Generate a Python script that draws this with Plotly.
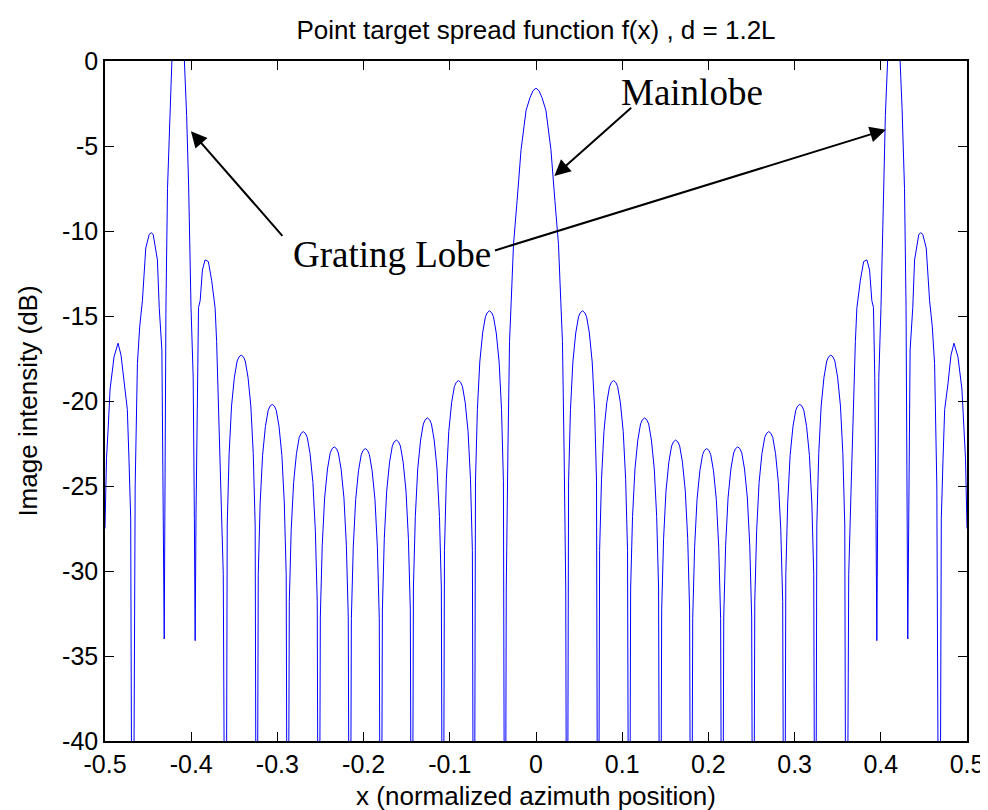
import plotly.graph_objects as go

# ---------------- data ----------------
# left half, from x = -0.5 to just before 0
x_left = [
    -0.5000, -0.4983, -0.4964, -0.4941, -0.4895, -0.4849, -0.4814, -0.4779, -0.4741, -0.4722, -0.4702, -0.4680,
    -0.4650, -0.4624, -0.4597, -0.4566, -0.4527, -0.4487, -0.4464, -0.4441, -0.4392, -0.4371, -0.4340, -0.4313,
    -0.4293, -0.4275, -0.4247, -0.4224, -0.4187, -0.4151, -0.4115, -0.4079, -0.4053, -0.4030, -0.4002, -0.3977, -0.3963, -0.3954,
    -0.3944, -0.3930, -0.3915, -0.3896, -0.3870, -0.3839, -0.3801, -0.3763, -0.3723, -0.3705, -0.3685, -0.3654, -0.3628, -0.3600,
    -0.3582, -0.3560, -0.3532, -0.3499, -0.3467, -0.3445, -0.3420, -0.3395, -0.3373, -0.3341, -0.3308, -0.3280, -0.3258, -0.3240,
    -0.3222, -0.3200, -0.3172, -0.3139, -0.3107, -0.3085, -0.3060, -0.3035, -0.3013, -0.2981, -0.2948, -0.2920, -0.2898, -0.2880,
    -0.2862, -0.2840, -0.2812, -0.2779, -0.2747, -0.2725, -0.2700, -0.2675, -0.2653, -0.2621, -0.2588, -0.2560, -0.2538, -0.2520,
    -0.2502, -0.2480, -0.2452, -0.2419, -0.2387, -0.2365, -0.2340, -0.2315, -0.2293, -0.2261, -0.2228, -0.2200, -0.2178, -0.2160,
    -0.2142, -0.2120, -0.2092, -0.2059, -0.2027, -0.2005, -0.1980, -0.1955, -0.1933, -0.1901, -0.1868, -0.1840, -0.1818, -0.1800,
    -0.1782, -0.1760, -0.1732, -0.1699, -0.1667, -0.1645, -0.1620, -0.1595, -0.1573, -0.1541, -0.1508, -0.1480, -0.1458, -0.1440,
    -0.1422, -0.1400, -0.1372, -0.1339, -0.1307, -0.1285, -0.1260, -0.1235, -0.1213, -0.1181, -0.1148, -0.1120, -0.1098, -0.1080,
    -0.1062, -0.1040, -0.1012, -0.0979, -0.0947, -0.0925, -0.0900, -0.0875, -0.0853, -0.0821, -0.0788, -0.0760, -0.0738, -0.0720,
    -0.0702, -0.0680, -0.0652, -0.0619, -0.0587, -0.0565, -0.0540, -0.0515, -0.0493, -0.0461, -0.0428, -0.0400, -0.0378, -0.0360,
    -0.0345, -0.0326, -0.0307, -0.0288, -0.0261, -0.0219, -0.0173, -0.0115, -0.0069, -0.0035,
]
y_left = [
    -27.5, -23.4, -21.7, -19.3, -17.4, -16.6, -17.3, -19.0, -20.5, -23.4, -26.9, -60.0,
    -25.0, -17.8, -15.6, -14.1, -11.0, -10.2, -10.1, -10.2, -11.7, -14.5, -17.0, -34.0,
    -14.5, -7.5, -2.8, 0.0, 1.0, 1.4, 1.0, 0.0, -3.2, -7.3, -14.5, -18.6, -26.9, -34.1,
    -26.6, -18.6, -14.5, -14.1, -12.3, -11.7, -11.8, -12.9, -14.5, -16.5, -19.7, -25.4, -30.2, -60.0,
    -27.3, -23.1, -20.3, -18.6, -17.65, -17.4, -17.3, -17.4, -17.65, -18.6, -20.3, -23.1, -27.3, -60.0,
    -30.2, -26.0, -23.2, -21.5, -20.55, -20.3, -20.2, -20.3, -20.55, -21.5, -23.2, -26.0, -30.2, -60.0,
    -31.8, -27.6, -24.8, -23.1, -22.15, -21.9, -21.8, -21.9, -22.15, -23.1, -24.8, -27.6, -31.8, -60.0,
    -32.7, -28.5, -25.7, -24.0, -23.05, -22.8, -22.7, -22.8, -23.05, -24.0, -25.7, -28.5, -32.7, -60.0,
    -32.8, -28.6, -25.8, -24.1, -23.15, -22.9, -22.8, -22.9, -23.15, -24.1, -25.8, -28.6, -32.8, -60.0,
    -32.3, -28.1, -25.3, -23.6, -22.65, -22.4, -22.3, -22.4, -22.65, -23.6, -25.3, -28.1, -32.3, -60.0,
    -31.0, -26.8, -24.0, -22.3, -21.35, -21.1, -21.0, -21.1, -21.35, -22.3, -24.0, -26.8, -31.0, -60.0,
    -28.8, -24.6, -21.8, -20.1, -19.15, -18.9, -18.8, -18.9, -19.15, -20.1, -21.8, -24.6, -28.8, -60.0,
    -24.7, -20.5, -17.7, -16.0, -15.05, -14.8, -14.7, -14.8, -15.05, -16.0, -17.7, -20.5, -24.7, -60.0,
    -31.0, -23.0, -16.5, -14.2, -10.8, -8.2, -5.2, -2.9, -2.15, -1.75,
]

# mainlobe peak
x_peak = [0.0]
y_peak = [-1.6]

# right half, from just after 0 to x = 0.5
x_right = [
    0.0035, 0.0069, 0.0115, 0.0173, 0.0219, 0.0261, 0.0288, 0.0307, 0.0326, 0.0345,
    0.0360, 0.0378, 0.0400, 0.0428, 0.0461, 0.0493, 0.0515, 0.0540, 0.0565, 0.0587, 0.0619, 0.0652, 0.0680, 0.0702,
    0.0720, 0.0738, 0.0760, 0.0788, 0.0821, 0.0853, 0.0875, 0.0900, 0.0925, 0.0947, 0.0979, 0.1012, 0.1040, 0.1062,
    0.1080, 0.1098, 0.1120, 0.1148, 0.1181, 0.1213, 0.1235, 0.1260, 0.1285, 0.1307, 0.1339, 0.1372, 0.1400, 0.1422,
    0.1440, 0.1458, 0.1480, 0.1508, 0.1541, 0.1573, 0.1595, 0.1620, 0.1645, 0.1667, 0.1699, 0.1732, 0.1760, 0.1782,
    0.1800, 0.1818, 0.1840, 0.1868, 0.1901, 0.1933, 0.1955, 0.1980, 0.2005, 0.2027, 0.2059, 0.2092, 0.2120, 0.2142,
    0.2160, 0.2178, 0.2200, 0.2228, 0.2261, 0.2293, 0.2315, 0.2340, 0.2365, 0.2387, 0.2419, 0.2452, 0.2480, 0.2502,
    0.2520, 0.2538, 0.2560, 0.2588, 0.2621, 0.2653, 0.2675, 0.2700, 0.2725, 0.2747, 0.2779, 0.2812, 0.2840, 0.2862,
    0.2880, 0.2898, 0.2920, 0.2948, 0.2981, 0.3013, 0.3035, 0.3060, 0.3085, 0.3107, 0.3139, 0.3172, 0.3200, 0.3222,
    0.3240, 0.3258, 0.3280, 0.3308, 0.3341, 0.3373, 0.3395, 0.3420, 0.3445, 0.3467, 0.3499, 0.3532, 0.3560, 0.3582,
    0.3600, 0.3628, 0.3654, 0.3685, 0.3705, 0.3723, 0.3763, 0.3801, 0.3839, 0.3870, 0.3896, 0.3915, 0.3930, 0.3944,
    0.3954, 0.3963, 0.3977, 0.4002, 0.4030, 0.4053, 0.4079, 0.4115, 0.4151, 0.4187, 0.4224, 0.4247, 0.4275, 0.4293,
    0.4313, 0.4340, 0.4371, 0.4392, 0.4441, 0.4464, 0.4487, 0.4527, 0.4566, 0.4597, 0.4624, 0.4650,
    0.4680, 0.4702, 0.4722, 0.4741, 0.4779, 0.4814, 0.4849, 0.4895, 0.4941, 0.4964, 0.4983, 0.5000,
]
y_right = [
    -1.75, -2.15, -2.9, -5.2, -8.2, -10.8, -14.2, -16.5, -23.0, -31.0,
    -60.0, -24.7, -20.5, -17.7, -16.0, -15.05, -14.8, -14.7, -14.8, -15.05, -16.0, -17.7, -20.5, -24.7,
    -60.0, -28.8, -24.6, -21.8, -20.1, -19.15, -18.9, -18.8, -18.9, -19.15, -20.1, -21.8, -24.6, -28.8,
    -60.0, -31.0, -26.8, -24.0, -22.3, -21.35, -21.1, -21.0, -21.1, -21.35, -22.3, -24.0, -26.8, -31.0,
    -60.0, -32.3, -28.1, -25.3, -23.6, -22.65, -22.4, -22.3, -22.4, -22.65, -23.6, -25.3, -28.1, -32.3,
    -60.0, -32.8, -28.6, -25.8, -24.1, -23.15, -22.9, -22.8, -22.9, -23.15, -24.1, -25.8, -28.6, -32.8,
    -60.0, -32.7, -28.5, -25.7, -24.0, -23.05, -22.8, -22.7, -22.8, -23.05, -24.0, -25.7, -28.5, -32.7,
    -60.0, -31.8, -27.6, -24.8, -23.1, -22.15, -21.9, -21.8, -21.9, -22.15, -23.1, -24.8, -27.6, -31.8,
    -60.0, -30.2, -26.0, -23.2, -21.5, -20.55, -20.3, -20.2, -20.3, -20.55, -21.5, -23.2, -26.0, -30.2,
    -60.0, -27.3, -23.1, -20.3, -18.6, -17.65, -17.4, -17.3, -17.4, -17.65, -18.6, -20.3, -23.1, -27.3,
    -60.0, -30.2, -25.4, -19.7, -16.5, -14.5, -12.9, -11.8, -11.7, -12.3, -14.1, -14.5, -18.6, -26.6,
    -34.1, -26.9, -18.6, -14.5, -7.3, -3.2, 0.0, 1.0, 1.4, 1.0, 0.0, -2.8, -7.5, -14.5,
    -34.0, -17.0, -14.5, -11.7, -10.2, -10.1, -10.2, -11.0, -14.1, -15.6, -17.8, -25.0,
    -60.0, -26.9, -23.4, -20.5, -19.0, -17.3, -16.6, -17.4, -19.3, -21.7, -23.4, -27.5,
]

x_tick_vals = [-0.5, -0.4, -0.3, -0.2, -0.1, 0.0, 0.1, 0.2, 0.3, 0.4, 0.5]
x_tick_text = ["-0.5", "-0.4", "-0.3", "-0.2", "-0.1", "0", "0.1", "0.2", "0.3", "0.4", "0.5"]
y_tick_vals = [0, -5, -10, -15, -20, -25, -30, -35, -40]
y_tick_text = ["0", "-5", "-10", "-15", "-20", "-25", "-30", "-35", "-40"]

title_text = "Point target spread function f(x) , d = 1.2L"
x_title = "x (normalized azimuth position)"
y_title = "Image intensity (dB)"

# ---------------- figure ----------------
x_all = x_left + x_peak + x_right
y_all = y_left + y_peak + y_right

SANS = "Liberation Sans, Arial, Helvetica, sans-serif"
SERIF = "Liberation Serif, Times New Roman, serif"

fig = go.Figure()
fig.add_trace(go.Scatter(
    x=x_all, y=y_all, mode="lines",
    line=dict(color="#0000ff", width=1),
    hoverinfo="skip", showlegend=False,
))

axis_common = dict(
    showline=True, linecolor="black", linewidth=1.5, mirror="allticks",
    ticks="inside", ticklen=9, tickwidth=1, tickcolor="black",
    showgrid=False, zeroline=False,
    tickfont=dict(family=SANS, size=25, color="black"),
)

fig.update_layout(
    width=988, height=810,
    margin=dict(l=97, r=23, t=53, b=73),
    paper_bgcolor="white", plot_bgcolor="white",
    title=dict(text=title_text, x=0.5, xref="paper", xanchor="center",
               y=1 - 22 / 810, yref="container", yanchor="middle",
               font=dict(family=SANS, size=26, color="black")),
    xaxis=dict(range=[-0.5, 0.5], tickvals=x_tick_vals, ticktext=x_tick_text,
               title=dict(text=x_title, font=dict(family=SANS, size=26, color="black"), standoff=10),
               **axis_common),
    yaxis=dict(range=[-40, 0], tickvals=y_tick_vals, ticktext=y_tick_text,
               title=dict(text=y_title, font=dict(family=SANS, size=26, color="black"), standoff=17),
               **axis_common),
)

# text labels
fig.add_annotation(x=0.1804, y=-1.83, xref="x", yref="y", text="Mainlobe", showarrow=False,
                   font=dict(family=SERIF, size=37, color="black"), xanchor="center", yanchor="middle")
fig.add_annotation(x=-0.1668, y=-11.36, xref="x", yref="y", text="Grating Lobe", showarrow=False,
                   font=dict(family=SERIF, size=37, color="black"), xanchor="center", yanchor="middle")

# arrows (tip at x,y ; tail at ax,ay)
arrow_style = dict(xref="x", yref="y", axref="x", ayref="y", text="", showarrow=True,
                   arrowhead=2, arrowsize=1.6, arrowwidth=2, arrowcolor="black", standoff=0, startstandoff=0)
fig.add_annotation(x=0.0213, y=-6.76, ax=0.1122, ay=-2.67, **arrow_style)
fig.add_annotation(x=-0.4003, y=-4.13, ax=-0.2927, ay=-10.37, **arrow_style)
fig.add_annotation(x=0.4059, y=-4.04, ax=-0.0493, ay=-11.17, **arrow_style)

fig.write_html("out.html")
